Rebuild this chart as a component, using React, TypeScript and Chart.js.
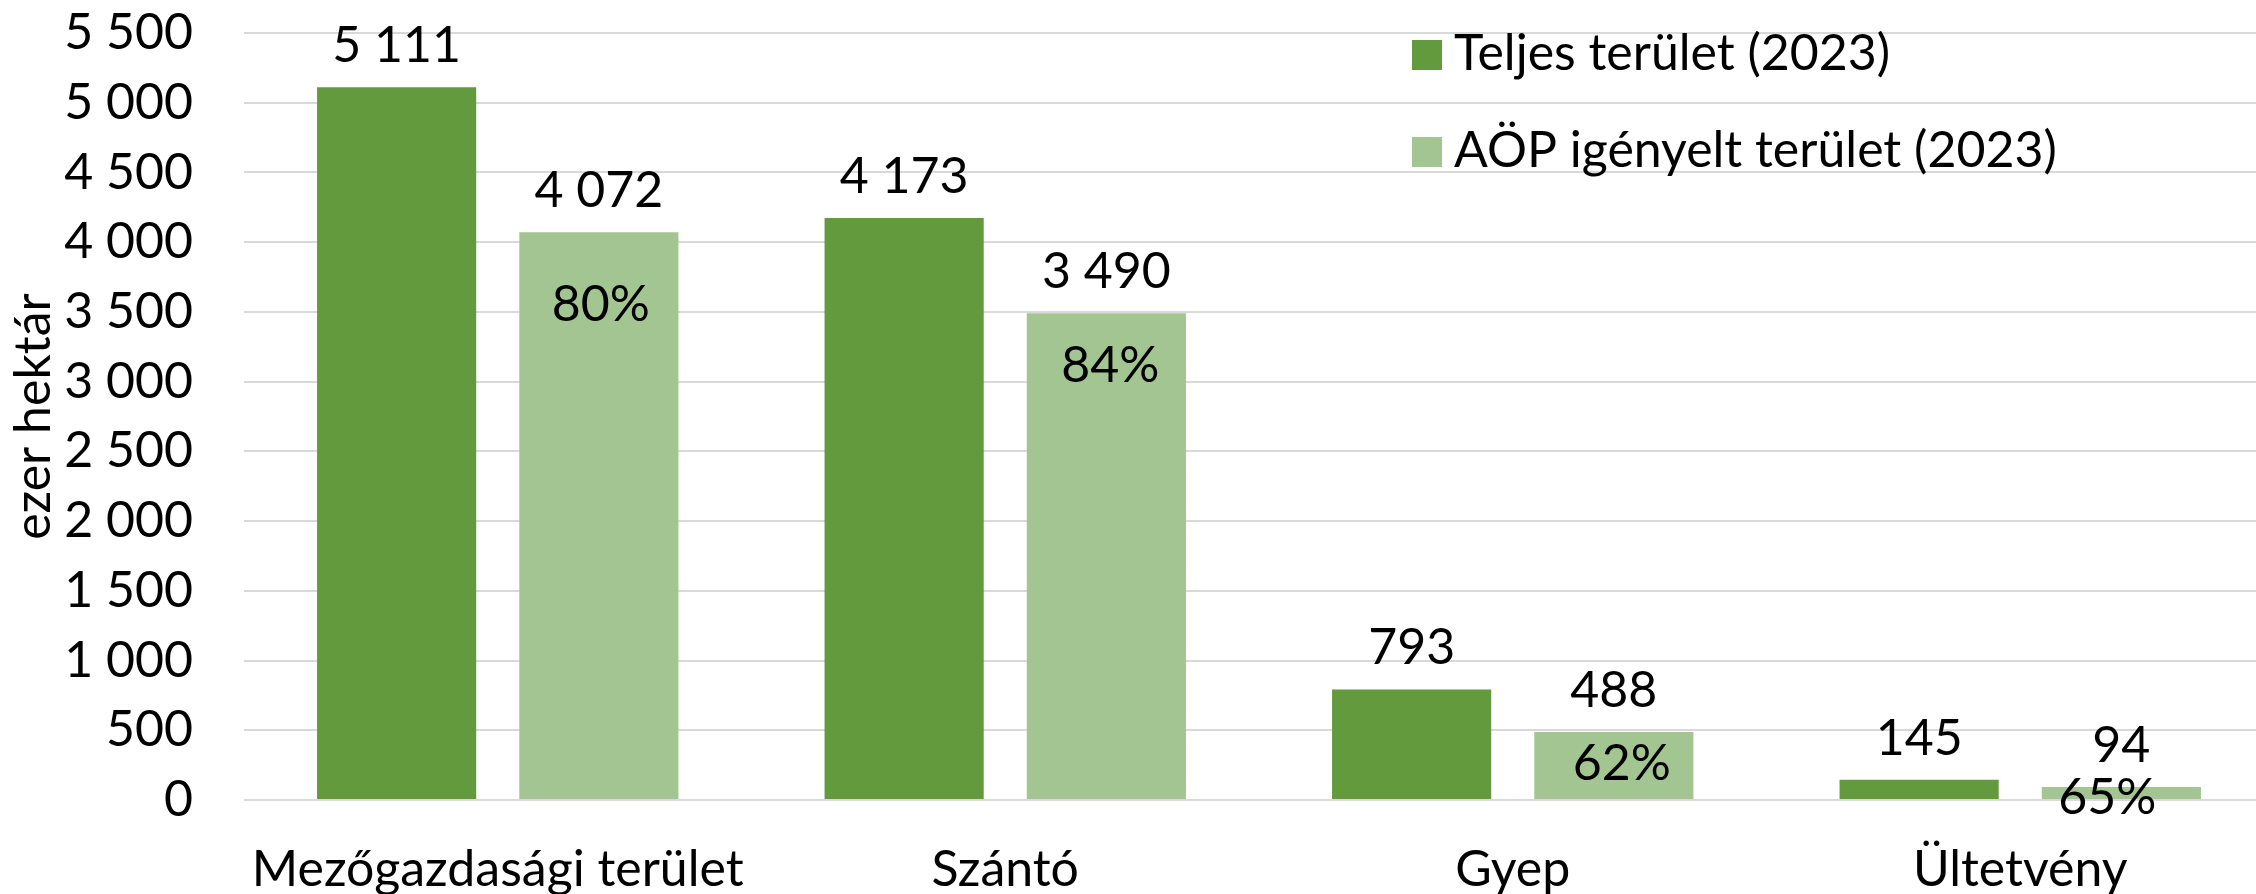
import React, { useEffect, useRef } from 'react';
import { Chart, registerables } from 'chart.js';

Chart.register(...registerables);

const categories = ['Mezőgazdasági terület', 'Szántó', 'Gyep', 'Ültetvény'];
const totalArea = [5111, 4173, 793, 145];
const claimedArea = [4072, 3490, 488, 94];
const seriesNames = ['Teljes terület (2023)', 'AÖP igényelt terület (2023)'];
const yAxisTitle = 'ezer hektár';
const yMin = 0;
const yMax = 5500;
const yStep = 500;

const DARK = '#639A3E';
const LIGHT = '#A3C592';
const FONT = 'Lato';
const FS = 50;

const fmt = (v: number) => String(v).replace(/\B(?=(\d{3})+(?!\d))/g, ' ');

const labelsPlugin = {
  id: 'customLabels',
  afterDatasetsDraw(chart: any, _args: any, opts: any) {
    const ctx = chart.ctx;
    ctx.save();
    ctx.font = `${FS}px ${FONT}`;
    ctx.fillStyle = '#000';
    ctx.textAlign = 'center';
    ctx.textBaseline = 'alphabetic';
    chart.data.datasets.forEach((ds: any, di: number) => {
      const meta = chart.getDatasetMeta(di);
      meta.data.forEach((bar: any, i: number) => {
        ctx.fillText(fmt(ds.data[i]), bar.x, bar.y - opts.gap);
      });
    });
    const meta1 = chart.getDatasetMeta(1);
    meta1.data.forEach((bar: any, i: number) => {
      const pct = Math.round((claimedArea[i] / totalArea[i]) * 100) + '%';
      ctx.fillText(pct, bar.x + opts.pctDx[i], bar.y + opts.pctDepth[i] + opts.capHalf);
    });
    // legend
    const lg = opts.legend;
    ctx.textAlign = 'left';
    seriesNames.forEach((name, i) => {
      const y = lg.y + i * lg.rowGap;
      ctx.fillStyle = i === 0 ? DARK : LIGHT;
      ctx.fillRect(lg.x, y, lg.box, lg.box);
      ctx.fillStyle = '#000';
      ctx.fillText(name, lg.x + lg.textOffset, y + lg.box);
    });
    ctx.restore();
  },
};

export default function App() {
  const ref = useRef<HTMLCanvasElement | null>(null);
  useEffect(() => {
    if (!ref.current) return;
    const chart = new Chart(ref.current, {
      type: 'bar',
      data: {
        labels: categories,
        datasets: [
          { label: seriesNames[0], data: totalArea, backgroundColor: DARK, categoryPercentage: 0.797, barPercentage: 0.787 },
          { label: seriesNames[1], data: claimedArea, backgroundColor: LIGHT, categoryPercentage: 0.797, barPercentage: 0.787 },
        ],
      },
      plugins: [labelsPlugin],
      options: {
        animation: false,
        responsive: true,
        maintainAspectRatio: false,
        layout: { padding: { top: 33, right: 6, left: 0, bottom: 0 } },
        plugins: {
          legend: { display: false },
          tooltip: { enabled: false },
          customLabels: {
            gap: 25,
            capHalf: 17,
            pctDepth: [71.5, 52, 31, 10.5],
            pctDx: [2, 4, 8, -14],
            legend: { x: 1412, y: 40, box: 30, rowGap: 97, textOffset: 42 },
          },
        } as any,
        scales: {
          x: {
            grid: { display: false },
            border: { display: false },
            ticks: { color: '#000', font: { family: FONT, size: FS }, padding: 32, maxRotation: 0 },
            afterFit: (s: any) => { s.height = 94; s.paddingLeft = 0; s.paddingRight = 0; },
          },
          y: {
            min: yMin,
            max: yMax,
            border: { display: false },
            grid: { color: '#D9D9D9', lineWidth: 2, drawTicks: false },
            ticks: {
              stepSize: yStep,
              color: '#000',
              padding: 51,
              font: { family: FONT, size: FS },
              callback: (v: any) => fmt(Number(v)),
            },
            title: { display: true, text: yAxisTitle, color: '#000', font: { family: FONT, size: FS }, padding: { top: 4, bottom: 0 } },
            afterFit: (s: any) => { s.width = 244; s.paddingTop = 0; s.paddingBottom = 0; },
          },
        },
      },
    });
    return () => chart.destroy();
  }, []);
  return (
    <div style={{ position: 'fixed', left: 0, top: 0, width: 2256, height: 894, overflow: 'hidden', background: '#fff' }}>
      <div style={{ position: 'relative', width: 2280, height: 894 }}>
        <canvas ref={ref} />
      </div>
    </div>
  );
}
